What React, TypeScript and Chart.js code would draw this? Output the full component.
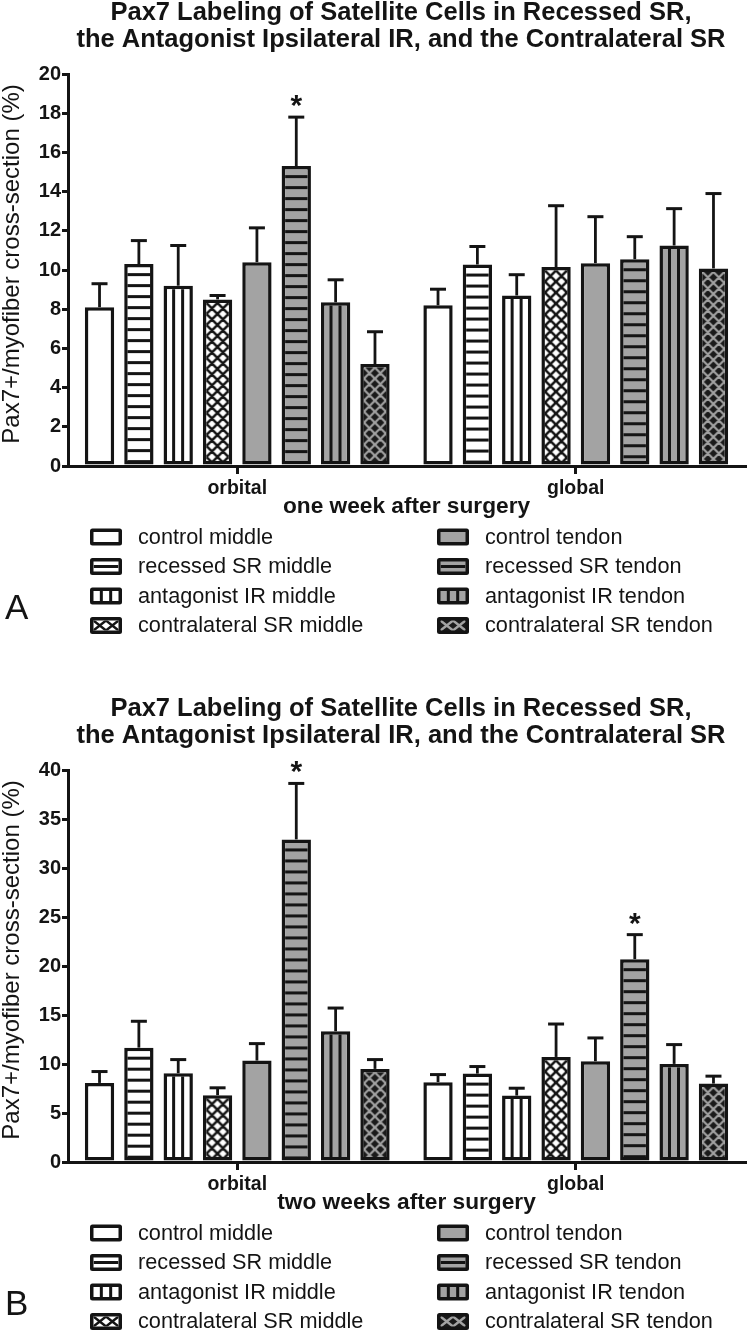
import React, { useEffect, useRef } from "react";
import { Chart, registerables } from "chart.js";

Chart.register(...registerables);

const FONT = "'Liberation Sans', Arial, Helvetica, sans-serif";
const INK = "#141414";
const GRAY = "#a3a3a3";
const DARK = "#1a1a1a";

// ---------- data ----------
const categories = ["orbital", "global"];
const seriesNames = [
  "control middle",
  "recessed SR middle",
  "antagonist IR middle",
  "contralateral SR middle",
  "control tendon",
  "recessed SR tendon",
  "antagonist IR tendon",
  "contralateral SR tendon",
];
const seriesStyles = ["white", "hwhite", "vwhite", "xwhite", "gray", "hgray", "vgray", "xdark"];

const titleLines = [
  "Pax7 Labeling of Satellite Cells in Recessed SR,",
  "the Antagonist Ipsilateral IR, and the Contralateral SR",
];
const yAxisTitle = "Pax7+/myofiber cross-section (%)";

// Panel A: one week after surgery (values per series, in seriesNames order)
const weekOneAxisTitle = "one week after surgery";
const weekOneOrbitalMean = [8.1, 10.3, 9.2, 8.5, 10.4, 15.3, 8.35, 5.2];
const weekOneOrbitalSem = [1.2, 1.2, 2.05, 0.2, 1.75, 2.5, 1.15, 1.65];
const weekOneGlobalMean = [8.2, 10.28, 8.7, 10.15, 10.35, 10.55, 11.25, 10.08];
const weekOneGlobalSem = [0.82, 0.92, 1.06, 3.13, 2.37, 1.15, 1.88, 3.82];
const weekOneOrbitalSig = [false, false, false, false, false, true, false, false];
const weekOneGlobalSig = [false, false, false, false, false, false, false, false];
const weekOneYMax = 20;
const weekOneYStep = 2;

// Panel B: two weeks after surgery
const weekTwoAxisTitle = "two weeks after surgery";
const weekTwoOrbitalMean = [8.07, 11.67, 9.06, 6.82, 10.35, 32.92, 13.34, 9.5];
const weekTwoOrbitalSem = [1.16, 2.69, 1.39, 0.75, 1.73, 5.71, 2.37, 0.95];
const weekTwoGlobalMean = [8.15, 9.02, 6.78, 10.72, 10.28, 20.7, 10.01, 8.0];
const weekTwoGlobalSem = [0.77, 0.72, 0.75, 3.36, 2.38, 2.5, 1.97, 0.76];
const weekTwoOrbitalSig = [false, false, false, false, false, true, false, false];
const weekTwoGlobalSig = [false, false, false, false, false, true, false, false];
const weekTwoYMax = 40;
const weekTwoYStep = 5;

// ---------- styling constants ----------
const CAT_PCT = 0.93;
const BAR_PCT = 0.745;
const BAR_BORDER = 3.5;
const CAP = 16;
const STRIPE_PERIOD = 11;
const STRIPE_W = 3;
const STRIPE_FIRST = 9;
const CROSS_PERIOD = 11;

function makeTile(w: number, h: number, draw: (c: CanvasRenderingContext2D) => void) {
  const cv = document.createElement("canvas");
  cv.width = w;
  cv.height = h;
  const c = cv.getContext("2d")!;
  draw(c);
  return cv;
}

function bgFor(style: string) {
  if (style === "xdark") return DARK;
  if (style.endsWith("gray")) return GRAY;
  return "#ffffff";
}

function barPattern(chart: any, style: string, left: number, top: number, barW: number) {
  const bg = bgFor(style);
  if (style === "white" || style === "gray") return bg;
  const kind = style[0];
  const bw = BAR_BORDER;
  let tile: HTMLCanvasElement;
  let tx = left + bw;
  let ty = top + bw;
  if (kind === "h") {
    tile = makeTile(4, STRIPE_PERIOD, (c) => {
      c.fillStyle = bg;
      c.fillRect(0, 0, 4, STRIPE_PERIOD);
      c.fillStyle = INK;
      c.fillRect(0, 0, 4, STRIPE_W);
    });
    ty = top + STRIPE_FIRST;
  } else if (kind === "v") {
    const inner = Math.max(6, Math.round(barW - 2 * bw));
    const lw = 3;
    const cell = (inner - 2 * lw) / 3;
    tile = makeTile(inner, 4, (c) => {
      c.fillStyle = bg;
      c.fillRect(0, 0, inner, 4);
      c.fillStyle = INK;
      c.fillRect(Math.round(cell), 0, lw, 4);
      c.fillRect(Math.round(2 * cell + lw), 0, lw, 4);
    });
  } else {
    const s = CROSS_PERIOD;
    const fg = style === "xdark" ? GRAY : INK;
    tile = makeTile(s, s, (c) => {
      c.fillStyle = bg;
      c.fillRect(0, 0, s, s);
      c.strokeStyle = fg;
      c.lineWidth = style === "xdark" ? 2.2 : 2.5;
      c.beginPath();
      for (const d of [-s, 0, s]) {
        c.moveTo(d - 3, -3);
        c.lineTo(d + s + 3, s + 3);
        c.moveTo(d + s + 3, -3);
        c.lineTo(d - 3, s + 3);
      }
      c.stroke();
    });
  }
  const pat = chart.ctx.createPattern(tile, "repeat")!;
  pat.setTransform(new DOMMatrix([1, 0, 0, 1, tx, ty]));
  return pat;
}

function scriptFill(ctx: any, style: string) {
  const chart = ctx.chart;
  const xs = chart.scales && chart.scales.x;
  const ys = chart.scales && chart.scales.y;
  const flat = bgFor(style);
  if (!xs || !ys || ctx.dataIndex === undefined || !xs.width || typeof ctx.raw !== "number") return flat;
  const n = seriesNames.length;
  const slot = ((xs.width / categories.length) * CAT_PCT) / n;
  const barW = slot * BAR_PCT;
  const cx = xs.getPixelForValue(ctx.dataIndex) + (ctx.datasetIndex - (n - 1) / 2) * slot;
  const top = ys.getPixelForValue(ctx.raw);
  return barPattern(chart, style, cx - barW / 2, top, barW);
}

function drawLegendBox(c: CanvasRenderingContext2D, x: number, y: number, w: number, h: number, style: string) {
  const bw = 3.5;
  const bg = bgFor(style);
  c.save();
  c.fillStyle = INK;
  c.beginPath();
  (c as any).roundRect(x, y, w, h, 2.5);
  c.fill();
  const ix = x + bw, iy = y + bw, iw = w - 2 * bw, ih = h - 2 * bw;
  c.fillStyle = bg;
  c.fillRect(ix, iy, iw, ih);
  c.beginPath();
  c.rect(ix, iy, iw, ih);
  c.clip();
  const kind = style[0];
  c.fillStyle = INK;
  if (kind === "h") {
    c.fillRect(ix, iy + ih / 2 - 1.5, iw, 3);
  } else if (kind === "v") {
    const cell = (iw - 6) / 3;
    c.fillRect(ix + cell, iy, 3, ih);
    c.fillRect(ix + 2 * cell + 3, iy, 3, ih);
  } else if (kind === "x") {
    c.strokeStyle = style === "xdark" ? GRAY : INK;
    c.lineWidth = 2.4;
    c.beginPath();
    const half = iw / 2;
    for (let k = 0; k < 2; k++) {
      const x0 = ix + k * half;
      c.moveTo(x0, iy);
      c.lineTo(x0 + half, iy + ih);
      c.moveTo(x0 + half, iy);
      c.lineTo(x0, iy + ih);
    }
    c.stroke();
  }
  c.restore();
}

const errorBarPlugin = {
  id: "errorBars",
  afterDatasetsDraw(chart: any) {
    const { ctx } = chart;
    const ys = chart.scales.y;
    chart.data.datasets.forEach((ds: any, i: number) => {
      const meta = chart.getDatasetMeta(i);
      meta.data.forEach((el: any, j: number) => {
        const v = ds.data[j];
        const e = ds.errors[j];
        const yTop = ys.getPixelForValue(v + e);
        ctx.save();
        ctx.strokeStyle = INK;
        ctx.lineWidth = 2.8;
        ctx.beginPath();
        ctx.moveTo(el.x, el.y);
        ctx.lineTo(el.x, yTop);
        ctx.stroke();
        ctx.lineWidth = 3;
        ctx.beginPath();
        ctx.moveTo(el.x - CAP / 2, yTop);
        ctx.lineTo(el.x + CAP / 2, yTop);
        ctx.stroke();
        if (ds.sig[j]) {
          ctx.fillStyle = INK;
          ctx.font = `bold 30px ${FONT}`;
          ctx.textAlign = "center";
          ctx.textBaseline = "alphabetic";
          const m = ctx.measureText("*");
          const target = yTop - 16;
          const base = target + (m.actualBoundingBoxAscent - m.actualBoundingBoxDescent) / 2;
          ctx.fillText("*", el.x, base);
        }
        ctx.restore();
      });
    });
  },
};

type PanelProps = {
  letter: string;
  axisTitle: string;
  orbitalMean: number[];
  orbitalSem: number[];
  globalMean: number[];
  globalSem: number[];
  orbitalSig: boolean[];
  globalSig: boolean[];
  yMax: number;
  yStep: number;
  height: number;
  top: number;
};

function Panel(p: PanelProps) {
  const ref = useRef<HTMLCanvasElement>(null);
  useEffect(() => {
    const canvas = ref.current!;
    const datasets = seriesNames.map((name, s) => ({
      label: name,
      data: [p.orbitalMean[s], p.globalMean[s]],
      errors: [p.orbitalSem[s], p.globalSem[s]],
      sig: [p.orbitalSig[s], p.globalSig[s]],
      backgroundColor: (ctx: any) => scriptFill(ctx, seriesStyles[s]),
      borderColor: INK,
      borderWidth: BAR_BORDER,
      borderSkipped: false,
      categoryPercentage: CAT_PCT,
      barPercentage: BAR_PCT,
    }));

    const decor = {
      id: "decor",
      afterDraw(chart: any) {
        const c: CanvasRenderingContext2D = chart.ctx;
        c.save();
        c.fillStyle = INK;
        // title
        c.font = `bold 25.5px ${FONT}`;
        c.textAlign = "center";
        c.textBaseline = "alphabetic";
        c.fillText(titleLines[0], 401, 20);
        c.fillText(titleLines[1], 401, 46.5);
        // y axis title
        c.save();
        c.translate(12, 264);
        c.rotate(-Math.PI / 2);
        c.font = `24px ${FONT}`;
        c.textBaseline = "middle";
        c.fillText(yAxisTitle, 0, 0);
        c.restore();
        // legend
        const rows = [537, 566.5, 596, 625.5];
        const boxX = [90, 437];
        const textX = [138, 485];
        c.font = `21.7px ${FONT}`;
        c.textAlign = "left";
        c.textBaseline = "middle";
        seriesNames.forEach((name, s) => {
          const col = s < 4 ? 0 : 1;
          const row = s % 4;
          drawLegendBox(c, boxX[col], rows[row] - 8.5, 32, 17, seriesStyles[s]);
          c.fillStyle = INK;
          c.fillText(name, textX[col], rows[row] + 1);
        });
        // panel letter
        c.font = `35px ${FONT}`;
        c.textAlign = "left";
        c.textBaseline = "alphabetic";
        c.fillText(p.letter, 5, 619);
        c.restore();
      },
    };

    const chart = new Chart(canvas, {
      type: "bar",
      data: { labels: categories, datasets: datasets as any },
      options: {
        responsive: false,
        maintainAspectRatio: false,
        animation: false,
        events: [],
        layout: { padding: { top: 74, right: 5, left: 0, bottom: p.height - 466 - 54 } },
        plugins: {
          legend: { display: false },
          title: { display: false },
          tooltip: { enabled: false },
        },
        scales: {
          x: {
            type: "category",
            offset: true,
            afterFit: (s: any) => {
              s.height = 54;
            },
            grid: {
              display: true,
              drawOnChartArea: false,
              drawTicks: true,
              offset: false,
              tickLength: 8,
              lineWidth: 3,
              color: INK,
            },
            border: { display: true, color: INK, width: 3 },
            ticks: {
              color: INK,
              font: { family: FONT, size: 19.5, weight: "bold" },
              padding: 3,
              maxRotation: 0,
            },
            title: {
              display: true,
              text: p.axisTitle,
              color: INK,
              font: { family: FONT, size: 22.7, weight: "bold" },
              padding: { top: 0, bottom: 0 },
            },
          },
          y: {
            min: 0,
            max: p.yMax,
            afterFit: (s: any) => {
              s.width = 68;
            },
            grid: {
              display: true,
              drawOnChartArea: false,
              drawTicks: true,
              tickLength: 6,
              lineWidth: 3,
              color: INK,
            },
            border: { display: true, color: INK, width: 3 },
            ticks: {
              stepSize: p.yStep,
              color: INK,
              padding: 1,
              font: { family: FONT, size: 20, weight: "bold" },
            },
          },
        },
      } as any,
      plugins: [errorBarPlugin, decor],
    });
    return () => chart.destroy();
  }, []);
  return (
    <canvas
      ref={ref}
      width={750}
      height={p.height}
      style={{ display: "block", position: "absolute", left: 0, top: p.top, width: 750, height: p.height }}
    />
  );
}

export default function App() {
  useEffect(() => {
    document.body.style.margin = "0";
  }, []);
  return (
    <div style={{ position: "absolute", left: 0, top: 0, width: 750, height: 1335, background: "#fff" }}>
      <Panel
        letter="A"
        axisTitle={weekOneAxisTitle}
        orbitalMean={weekOneOrbitalMean}
        orbitalSem={weekOneOrbitalSem}
        globalMean={weekOneGlobalMean}
        globalSem={weekOneGlobalSem}
        orbitalSig={weekOneOrbitalSig}
        globalSig={weekOneGlobalSig}
        yMax={weekOneYMax}
        yStep={weekOneYStep}
        height={696}
        top={0}
      />
      <Panel
        letter="B"
        axisTitle={weekTwoAxisTitle}
        orbitalMean={weekTwoOrbitalMean}
        orbitalSem={weekTwoOrbitalSem}
        globalMean={weekTwoGlobalMean}
        globalSem={weekTwoGlobalSem}
        orbitalSig={weekTwoOrbitalSig}
        globalSig={weekTwoGlobalSig}
        yMax={weekTwoYMax}
        yStep={weekTwoYStep}
        height={639}
        top={696}
      />
    </div>
  );
}
